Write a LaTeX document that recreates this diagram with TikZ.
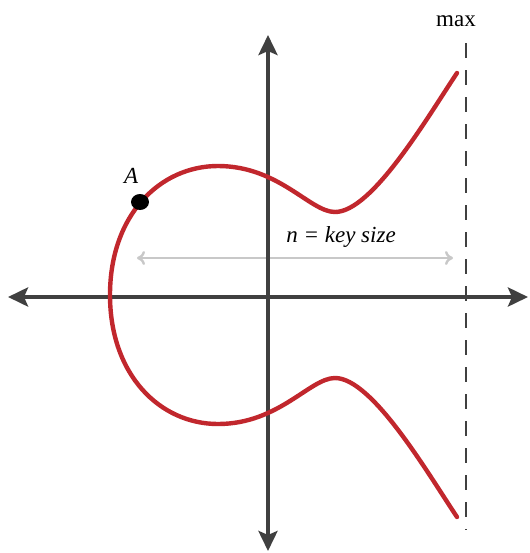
\documentclass[tikz,border=0pt]{standalone}
\usepackage{fontspec}
\setmainfont{Liberation Serif}
\usepackage{tikz}
\usetikzlibrary{positioning, arrows.meta, shapes.geometric}
\definecolor{AxisGrey}{HTML}{404040}
\definecolor{CurveRed}{HTML}{C1272D}
\definecolor{RangeGrey}{HTML}{C8C8C8}

\begin{document}
\begin{tikzpicture}[
    x=0.5pt, y=-0.5pt,
    axis/.style={draw=AxisGrey, line width=2pt, {Stealth[length=10pt, width=9.5pt, inset=2pt]}-{Stealth[length=10pt, width=9.5pt, inset=2pt]}},
    curve/.style={draw=CurveRed, line width=2.2pt, line cap=round},
    bound/.style={draw=AxisGrey, line width=0.9pt, dash pattern=on 7.5pt off 6pt},
    keyrange/.style={draw=RangeGrey, line width=1.2pt, {To[length=4pt, width=7pt]}-{To[length=4pt, width=7pt]}},
    every node/.style={font=\fontsize{11.5}{14}\selectfont}
]
\useasboundingbox (0,0) rectangle (530,553);

% Axes
\coordinate (xl) at (8,297);
\coordinate (xr) at (528,297);
\coordinate (yt) at (268,35);
\coordinate (yb) at (268,551);

% Range arrow (under the axes)
\coordinate (rl) at (137,258);
\coordinate (rr) at (453,258);
\draw[keyrange] (rl) -- (rr);
\node (keysize) at (341,237) {\itshape n = key size};

\draw[axis] (xl) -- (xr);
\draw[axis] (yt) -- (yb);

% Upper bound
\coordinate (mt) at (466,43);
\coordinate (mb) at (466,530);
\draw[bound] (mt) -- (mb);
\node (max) at (456,21) {max};

% Curve
\coordinate (ctop) at (457,73);
\coordinate (cbot) at (457,517);
\draw[curve] (ctop)
    .. controls (427,118) and (372,212) .. (335,212)
    .. controls (310,212) and (279,166) .. (218,166)
    .. controls (160,166) and (110,215) .. (110,295)
    .. controls (110,375) and (160,424) .. (218,424)
    .. controls (279,424) and (310,378) .. (335,378)
    .. controls (372,378) and (427,472) .. (cbot);

% Point A
\node[fill=black, ellipse, inner sep=0pt, minimum width=9pt, minimum height=8pt] (ptA) at (140,202) {};
\node[above left=3pt and -6pt of ptA] (labA) {\itshape A};

\end{tikzpicture}
\end{document}
